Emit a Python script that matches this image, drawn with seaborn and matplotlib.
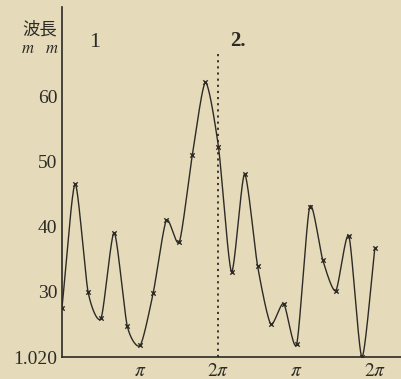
import numpy as np
import pandas as pd
import matplotlib
matplotlib.use("Agg")
import matplotlib.pyplot as plt
import seaborn as sns

# Wavelength readings, taken every pi/6 over two successive 2*pi cycles
phase_step = list(range(25))
wavelength = [27.6, 46.6, 30.0, 26.0, 39.1, 24.8, 21.8, 29.9, 41.0, 37.7,
              51.1, 62.2, 52.3, 33.1, 48.1, 34.0, 25.1, 28.2, 22.0, 43.1,
              34.9, 30.2, 38.6, 20.0, 36.8]

tick_steps = [6, 12, 18, 24]
tick_labels = [r"$\pi$", r"$2\pi$", r"$\pi$", r"$2\pi$"]
ytick_values = [20, 30, 40, 50, 60]
ytick_labels = ["1.020", "30", "40", "50", "60"]
cycle_boundary = 12
cycle_names = ["1", "2."]

BG = "#e5dbbb"
INK = "#2e2a25"


def cardinal(x, y, tension=0.3, n=30):
    """Cardinal (Hermite) spline through (x, y); higher tension gives sharper turns."""
    p = np.column_stack([x, y]).astype(float)
    ext = np.vstack([2 * p[0] - p[1], p, 2 * p[-1] - p[-2]])
    m = (1 - tension) * (ext[2:] - ext[:-2]) / 2
    out = []
    t = np.linspace(0, 1, n, endpoint=False)[:, None]
    h00 = 2 * t**3 - 3 * t**2 + 1
    h10 = t**3 - 2 * t**2 + t
    h01 = -2 * t**3 + 3 * t**2
    h11 = t**3 - t**2
    for i in range(len(p) - 1):
        out.append(h00 * p[i] + h10 * m[i] + h01 * p[i + 1] + h11 * m[i + 1])
    out.append(p[-1][None, :])
    return np.vstack(out)


sns.set_theme(style="white")
plt.rcParams["font.family"] = ["Liberation Serif", "DejaVu Serif"]
plt.rcParams["mathtext.fontset"] = "stix"

fig = plt.figure(figsize=(4.01, 3.79), dpi=100, facecolor=BG)
ax = fig.add_axes([62 / 401, 22 / 379, 339 / 401, 350 / 379])
ax.set_facecolor(BG)

df = pd.DataFrame({"step": phase_step, "wavelength": wavelength})
# Smooth in screen proportions (pixels per step / per unit)
sx, sy = 13.04, 6.5
curve = cardinal(df["step"].to_numpy() * sx, df["wavelength"].to_numpy() * sy)
smooth = pd.DataFrame({"step": curve[:, 0] / sx, "wavelength": curve[:, 1] / sy})

sns.lineplot(data=smooth, x="step", y="wavelength", ax=ax, color=INK,
             linewidth=1.0, sort=False, estimator=None)
sns.scatterplot(data=df, x="step", y="wavelength", ax=ax, marker="x",
                s=10, color=INK, linewidth=1.0, zorder=3)

ax.vlines(cycle_boundary, 20, 66.9, colors=INK, linestyles=(0, (1.2, 2.2)),
          linewidth=1.3)

ax.set_xlim(0, 26.0)
ax.set_ylim(20, 73.8)
ax.set_xticks(tick_steps)
ax.set_xticklabels(tick_labels, fontsize=14)
ax.set_yticks(ytick_values)
ax.set_yticklabels(ytick_labels, fontsize=14)
ax.set_xlabel("")
ax.set_ylabel("")
ax.tick_params(axis="both", direction="inout", length=5, width=0.9,
               color=INK, labelcolor=INK, pad=1)
ax.tick_params(axis="x", pad=2)

for side in ["top", "right"]:
    ax.spines[side].set_visible(False)
for side in ["left", "bottom"]:
    ax.spines[side].set_color(INK)
    ax.spines[side].set_linewidth(1.2)

ax.text(2.53, 68.3, cycle_names[0], fontsize=16, color=INK, ha="center",
        va="center")
ax.text(13.5, 68.5, cycle_names[1], fontsize=15, color=INK, ha="center",
        va="center", fontweight="bold")

fig.text(40 / 401, 1 - 29 / 379, "波長", fontsize=12.5, color=INK, ha="center",
         va="center", family=["Noto Sans CJK JP", "DejaVu Sans"])
fig.text(40 / 401, 1 - 49 / 379, r"$m$   $m$", fontsize=12, color=INK, ha="center",
         va="center")

fig.savefig("out.png", dpi=100, facecolor=BG)
